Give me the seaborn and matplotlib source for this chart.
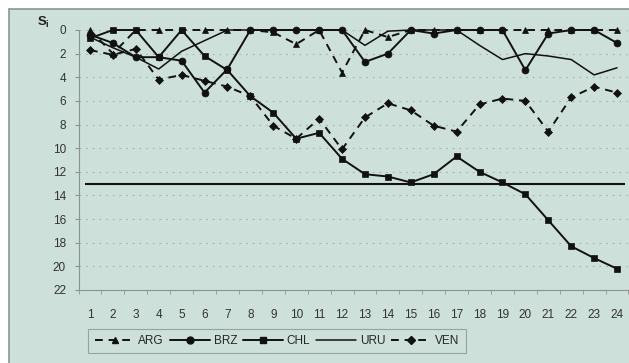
import numpy as np
import pandas as pd
import matplotlib
matplotlib.use("Agg")
import matplotlib.pyplot as plt
from matplotlib.patches import Rectangle
from matplotlib.lines import Line2D
import seaborn as sns

# values (S_i per period)
periods = list(range(1, 25))
arg = [0, 2.0, 0, 0, 0, 0, 0, 0, 0.2, 1.2, 0, 3.6, 0, 0.6, 0, 0, 0, 0, 0, 0, 0, 0, 0, 0]
brz = [0.4, 1.1, 2.3, 2.3, 2.6, 5.3, 3.3, 0, 0, 0, 0, 0, 2.7, 2.0, 0, 0.3, 0, 0, 0, 3.4, 0.3, 0, 0, 1.1]
chl = [0.7, 0, 0, 2.3, 0, 2.2, 3.4, 5.6, 7.0, 9.2, 8.7, 10.9, 12.2, 12.4, 12.9, 12.2, 10.7, 12.0, 12.9, 13.9,
       16.1, 18.3, 19.3, 20.2]
uru = [0.6, 1.5, 2.3, 3.3, 1.8, 0.9, 0, 0, 0, 0, 0, 0, 1.3, 0.1, 0, 0, 0, 1.3, 2.5, 2.0, 2.2, 2.5, 3.8, 3.2]
ven = [1.7, 2.1, 1.6, 4.2, 3.8, 4.3, 4.8, 5.6, 8.1, 9.2, 7.5, 10.1, 7.4, 6.2, 6.8, 8.1, 8.6, 6.3, 5.8, 6.0,
       8.6, 5.7, 4.8, 5.3]
threshold = 13
y_ticks = list(range(0, 23, 2))

series = {"ARG": arg, "BRZ": brz, "CHL": chl, "URU": uru, "VEN": ven}
styles = {
    "ARG": dict(marker="^", linestyle=(0, (4, 3)), markersize=5),
    "BRZ": dict(marker="o", linestyle="-", markersize=5),
    "CHL": dict(marker="s", linestyle="-", markersize=5),
    "URU": dict(marker=None, linestyle="-", lw=1.1),
    "VEN": dict(marker="D", linestyle=(0, (4, 3)), markersize=4.5),
}

bg = "#cde0da"
sns.set_style("ticks")
plt.rcParams["font.family"] = ["Liberation Sans", "DejaVu Sans"]

fig = plt.figure(figsize=(6.29, 3.63), dpi=100, facecolor="white")
fig.patches.append(Rectangle((9 / 629, -0.05), 1.2, 1 - 9 / 363 + 0.05, transform=fig.transFigure,
                             facecolor=bg, edgecolor="#8a9592", lw=1.2, zorder=-10))

ax = fig.add_axes([78.5 / 629, 1 - 290 / 363, 550 / 629, 260 / 363])
ax.set_facecolor(bg)

df = pd.DataFrame({"period": periods, **series})
for name in series:
    kw = dict(color="#111111", lw=1.4, clip_on=False, markeredgewidth=0.5, markeredgecolor="#111111")
    kw.update(styles[name])
    sns.lineplot(data=df, x="period", y=name, ax=ax, label=name, legend=False, zorder=3, **kw)

ax.hlines(threshold, 0.8, 24.35, color="#111111", lw=1.5, zorder=2)

ax.set_xlim(0.5, 24.5)
ax.set_ylim(22, 0)
ax.set_yticks(y_ticks)
ax.set_xticks(periods)
ax.set_xticks(np.arange(0.5, 25, 1), minor=True)
ax.tick_params(axis="x", which="major", length=0, pad=14, labelsize=8.5, labelcolor="#333333")
ax.tick_params(axis="x", which="minor", length=3, color="#8a9592", direction="out")
ax.tick_params(axis="y", length=3, color="#8a9592", labelsize=8.5, labelcolor="#333333", pad=6)
for yv in y_ticks[:-1]:
    ax.axhline(yv, color="#a3b4af", lw=0.8, linestyle=(0, (1.5, 4.5)), zorder=1)

for s in ["top", "right"]:
    ax.spines[s].set_visible(False)
for s in ["left", "bottom"]:
    ax.spines[s].set_color("#8a9592")
    ax.spines[s].set_linewidth(0.8)
ax.set_xlabel("")
ax.set_ylabel("")

fig.text(37 / 629, 1 - 22 / 363, r"S$_\mathregular{i}$", fontsize=9.5, fontweight="bold",
         color="#222222", va="center")

handles = []
for name in series:
    st = styles[name]
    handles.append(Line2D([], [], color="#111111", lw=st.get("lw", 1.4), linestyle=st["linestyle"],
                          marker=st["marker"], markersize=st.get("markersize", 5)))
leg = fig.legend(handles, list(series), loc="center", bbox_to_anchor=(277 / 629, 1 - 341 / 363), ncol=5,
                 frameon=True, fancybox=False, fontsize=8.5, handlelength=3.4, handletextpad=0.3,
                 columnspacing=0.5, borderpad=0.55)
leg.get_frame().set_edgecolor("#8a9592")
leg.get_frame().set_facecolor(bg)
leg.get_frame().set_linewidth(0.8)

fig.savefig("out.png", dpi=100, facecolor="white")
